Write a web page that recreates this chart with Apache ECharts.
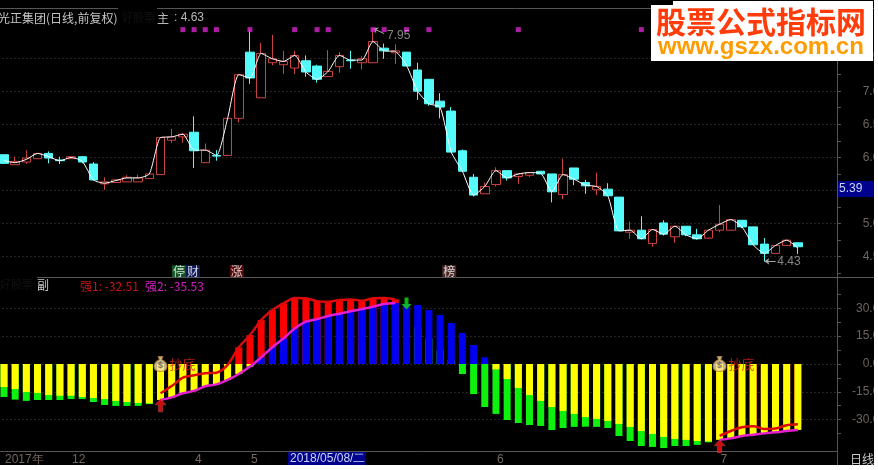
<!DOCTYPE html>
<html>
<head>
<meta charset="utf-8">
<title>光正集团</title>
<script src="https://cdn.jsdelivr.net/npm/echarts@6/dist/echarts.min.js"></script>
<style>
html,body{margin:0;padding:0;background:#fff;}
#myChart{position:absolute;left:0;top:0;width:874px;height:465px;background:#000;}
</style>
</head>
<body>
<div id="myChart"></div>
<script>
// open, close, low, high
const candles = [
	[6.04,5.91,5.91,6.04],[5.89,5.94,5.89,6.01],[5.93,5.99,5.90,6.11],[5.98,6.06,5.98,6.06],
	[6.06,5.99,5.91,6.09],[5.96,5.95,5.90,6.01],[5.98,6.01,5.98,6.01],[6.01,5.93,5.91,6.02],
	[5.90,5.66,5.65,5.93],[5.60,5.63,5.51,5.70],[5.62,5.66,5.62,5.67],[5.63,5.70,5.63,5.73],
	[5.63,5.69,5.63,5.74],[5.68,5.75,5.68,5.76],[5.74,6.30,5.74,6.30],[6.26,6.31,6.22,6.43],
	[6.31,6.35,6.22,6.37],[6.38,6.10,5.84,6.62],[5.92,6.11,5.92,6.21],[6.03,6.02,5.95,6.11],
	[6.03,6.59,6.03,6.59],[6.59,7.25,6.53,7.25],[7.59,7.20,7.11,7.93],[6.90,7.57,6.90,7.73],
	[7.43,7.49,7.39,7.85],[7.40,7.45,7.26,7.61],[7.35,7.54,7.26,7.61],[7.46,7.29,7.22,7.54],
	[7.38,7.18,7.13,7.40],[7.22,7.30,7.22,7.62],[7.37,7.54,7.28,7.59],[7.47,7.46,7.34,7.61],
	[7.43,7.49,7.33,7.53],[7.43,7.75,7.43,7.95],[7.65,7.61,7.49,7.72],[7.58,7.61,7.41,7.71],
	[7.59,7.38,7.38,7.59],[7.32,7.00,6.87,7.43],[7.18,6.81,6.78,7.18],[6.85,6.76,6.59,6.97],
	[6.70,6.08,6.08,6.76],[6.10,5.79,5.79,6.12],[5.70,5.43,5.41,5.75],[5.45,5.56,5.45,5.62],
	[5.59,5.80,5.56,5.85],[5.80,5.69,5.65,5.80],[5.71,5.75,5.60,5.76],[5.73,5.77,5.70,5.78],
	[5.79,5.75,5.75,5.79],[5.75,5.48,5.32,5.75],[5.44,5.74,5.37,5.98],[5.84,5.67,5.58,5.84],
	[5.62,5.57,5.45,5.66],[5.51,5.56,5.43,5.77],[5.52,5.42,5.42,5.61],[5.40,4.89,4.89,5.40],
	[4.87,4.90,4.77,5.03],[4.90,4.77,4.77,5.11],[4.70,4.91,4.65,4.91],[5.01,4.84,4.82,5.05],
	[4.80,4.96,4.71,4.96],[4.96,4.83,4.81,4.96],[4.83,4.77,4.76,4.92],[4.78,4.90,4.77,4.90],
	[4.90,4.99,4.87,5.28],[4.90,5.06,4.90,5.06],[5.05,4.95,4.93,5.05],[4.95,4.68,4.68,4.95],
	[4.69,4.55,4.43,4.78],[4.55,4.67,4.55,4.67],[4.67,4.75,4.67,4.75],[4.71,4.65,4.54,4.71]
];
const mainLine = [5.95,5.92,5.97,6.06,6.01,5.95,6.00,5.94,5.66,5.61,5.65,5.69,5.69,5.75,6.30,6.31,6.35,6.11,6.11,6.03,
	6.59,7.25,7.20,7.57,7.49,7.45,7.54,7.29,7.18,7.30,7.54,7.47,7.47,7.75,7.61,7.60,7.39,7.00,6.81,6.76,
	6.08,5.79,5.43,5.56,5.80,5.69,5.75,5.77,5.76,5.48,5.74,5.67,5.58,5.56,5.42,4.89,4.90,4.77,4.91,4.84,
	4.96,4.83,4.77,4.90,4.99,5.06,4.95,4.68,4.55,4.67,4.75,4.63];
const strong1 = [-17.8,-19.2,-19.9,-19.4,-19.4,-19.4,-18.9,-18.9,-20.5,-22.1,-22.6,-22.6,-22.6,-21.6,-15.8,-11.9,-7.4,-6.1,-5.0,-4.7,
	-0.5,9.0,15.6,23.7,29.1,32.7,35.6,35.4,33.9,33.6,34.5,34.8,34.1,35.4,35.6,34.8,27.3,20.1,13.8,7.5,
	2.2,-5.4,-16.2,-23.2,-26.9,-30.2,-31.8,-32.9,-33.4,-35.6,-34.5,-33.9,-33.8,-33.9,-34.5,-38.8,-41.5,-44.2,-44.7,-45.3,
	-44.2,-44.2,-43.6,-42.2,-38.8,-36.1,-34.1,-33.6,-35.0,-34.8,-33.0,-32.51];
const strong2 = [-12.4,-13.5,-15.1,-15.6,-16.7,-17.1,-17.1,-17.8,-18.3,-18.9,-19.9,-20.5,-21.0,-21.2,-19.4,-18.0,-15.8,-14.5,-12.0,-11.0,
	-8.6,-5.4,-1.4,3.6,9.0,13.8,19.2,22.8,24.2,25.9,27.1,28.4,29.6,30.9,32.3,32.9,32.3,31.8,29.1,26.4,
	22.1,16.7,10.2,3.6,-2.9,-8.1,-12.9,-16.7,-19.9,-23.2,-25.3,-26.9,-28.6,-29.6,-30.7,-32.3,-33.9,-36.1,-37.7,-39.3,
	-40.4,-40.9,-41.5,-41.7,-40.9,-40.1,-38.8,-38.1,-37.4,-36.8,-36.1,-35.53];
// which days the two strength lines are drawn on
const lineSpans = [[14,35],[64,71]];
const starDays = [16,17,18,19,22,26,28,29,33,34,36,38,46,57];
const starLevel = 7.93;
const extremes = [[33,7.95],[68,4.43]];
const tagDays = [[16,'停财'],[21,'涨'],[40,'榜']];
const tagLevel = 4.28;
const bagDays = [14,64];
const buyArrows = [[14,-22.3],[64,-44.3]];
const sellArrows = [[36,32.6]];
const dayCount = 75;
const monthLabels = {0:'2017年',6:'12',17:'4',22:'5',44:'6',64:'7'};
const minorDays = [9,11,14,18,19,21,38,49,54,59];
const mainLevels = [4.5,5,5.5,6,6.5,7,7.5];
const mainTicks = [4.25,4.5,4.75,5,5.25,5.5,5.75,6,6.25,6.5,6.75,7,7.25,7.5,7.75,8];
const subLevels = [-30,-15,0,15,30];
const subTicks = [-37.5,-30,-22.5,-15,-7.5,0,7.5,15,22.5,30,37.5];

const categories = [];
for (let i = 0; i < dayCount; i++) categories.push(monthLabels[i] || '');

const inSpan = i => lineSpans.some(s => i >= s[0] && i <= s[1]);
const spanOf = arr => arr.map((v, i) => inSpan(i) ? v : null);

const gray = '#565656';
const numFont = '"Liberation Sans"';
const cjkFont = '"Noto Sans CJK SC"';
const bagPath = 'path://M8,0 L16,0 L14,5 C20,8 23,13 23,17 C23,23 18,26 12,26 C6,26 1,23 1,17 C1,13 4,8 10,5 Z';
const upPath = 'path://M5,0 L10,6 L7,6 L7,13 L3,13 L3,6 L0,6 Z';
const downPath = 'path://M3,0 L7,0 L7,7 L10,7 L5,13 L0,7 L3,7 Z';
const tagStyle = color => ({color:'#fff', backgroundColor:color, fontSize:12, lineHeight:13, padding:[0,1,0,1], fontFamily:cjkFont});

const hline = (x1, x2, y, color) => ({type:'line', silent:true, z:50, shape:{x1:x1, y1:y, x2:x2, y2:y}, style:{stroke:color || gray, lineWidth:1}});
const gtext = (text, x, y, fill, size, z) => ({type:'text', silent:true, z:z || 60, style:{text:text, x:x, y:y, fill:fill, font:(size||13)+'px '+cjkFont, verticalAlign:'middle'}});
const ntext = (text, x, y, fill, z) => ({type:'text', silent:true, z:z || 60, style:{text:text, x:x, y:y, fill:fill, font:'12px '+numFont, verticalAlign:'middle'}});

let myChart = echarts.init(document.getElementById('myChart'), null, {renderer:'canvas'});
myChart.setOption({
	animation: false,
	backgroundColor: '#000',
	grid: [
		{left:-1.6, top:8, width:838.6, height:269, outerBoundsMode:'none'},
		{left:-1.6, top:277, width:838.6, height:174, outerBoundsMode:'none'}
	],
	xAxis: [
		{gridIndex:0, type:'category', data:categories, axisLine:{show:false}, axisTick:{show:false}, axisLabel:{show:false}, splitLine:{show:false}},
		{gridIndex:1, type:'category', data:categories, axisLine:{onZero:false, lineStyle:{color:gray}},
			axisTick:{alignWithLabel:true, length:14, lineStyle:{color:gray}, interval:(i, v) => v !== '' && i > 0},
			axisLabel:{interval:0, align:'left', margin:3, padding:[0,0,0,1], color:'#75665f', fontSize:12, fontFamily:numFont, hideOverlap:false},
			splitLine:{show:false}},
		{gridIndex:1, type:'category', data:categories, position:'bottom', axisLine:{show:false},
			axisTick:{alignWithLabel:true, inside:true, length:2, lineStyle:{color:gray}, interval:i => minorDays.indexOf(i) >= 0},
			axisLabel:{show:false}, splitLine:{show:false}}
	],
	yAxis: [
		{gridIndex:0, type:'value', position:'right', min:4.193, max:8.257, scale:true,
			axisLine:{show:true, lineStyle:{color:gray}}, splitLine:{show:false},
			axisTick:{show:true, length:4, customValues:mainTicks, lineStyle:{color:gray}},
			axisLabel:{customValues:mainLevels, formatter:v => v.toFixed(2), align:'right', margin:49, color:'#6e6560', fontSize:12, fontFamily:numFont}},
		{gridIndex:1, type:'value', position:'right', min:-46.9, max:46.9,
			axisLine:{show:true, onZero:false, lineStyle:{color:gray}}, splitLine:{show:false},
			axisTick:{show:true, length:4, customValues:subTicks, lineStyle:{color:gray}},
			axisLabel:{customValues:subLevels, formatter:v => v.toFixed(2), align:'right', margin:49, color:'#6e6560', fontSize:12, fontFamily:numFont}}
	],
	series: [
		{
			name:'K线', type:'candlestick', xAxisIndex:0, yAxisIndex:0, barWidth:9, z:3,
			data:candles,
			itemStyle:{color:'#000', color0:'#55fbfb', borderColor:'#cc4442', borderColor0:'#55fbfb', borderWidth:1},
			markLine:{silent:true, z:1, symbol:'none', label:{show:false}, animation:false,
				lineStyle:{color:'#4c4c4c', type:[1,3], width:1},
				data:mainLevels.map(v => ({yAxis:v}))}
		},
		{
			name:'主', type:'line', xAxisIndex:0, yAxisIndex:0, data:mainLine, z:4, smooth:0.2, showSymbol:false,
			lineStyle:{color:'#fff', width:1},
			markLine:{silent:true, z:4, label:{show:false}, symbol:['arrow','none'], symbolSize:5, animation:false,
				lineStyle:{color:'#a8a8a8', type:'solid', width:1},
				data:[
					[{coord:[extremes[0][0], extremes[0][1]]}, {coord:[extremes[0][0]+1, extremes[0][1]-0.08]}],
					[{coord:[extremes[1][0], extremes[1][1]]}, {coord:[extremes[1][0]+1, extremes[1][1]]}]
				]}
		},
		{
			type:'scatter', xAxisIndex:0, yAxisIndex:0, z:5, symbol:'rect', symbolSize:5, itemStyle:{color:'#d824cc'},
			data:starDays.map(d => [d, starLevel])
		},
		{
			type:'scatter', xAxisIndex:0, yAxisIndex:0, z:5, symbolSize:0,
			label:{show:true, position:'right', color:'#a8a8a8', fontSize:12, fontFamily:numFont, formatter:p => p.value[1].toFixed(2)},
			data:[
				{value:extremes[0], label:{offset:[9,7]}},
				{value:extremes[1], label:{offset:[8,0]}}
			]
		},
		{
			type:'scatter', xAxisIndex:0, yAxisIndex:0, z:5, symbolSize:0,
			data:tagDays.map(t => ({
				value:[t[0], tagLevel],
				label:{show:true, position:'inside', offset:t[1].length > 1 ? [3,0] : [-2,0],
					formatter:t[1] === '停财' ? '{a|停}{b|财}' : (t[1] === '涨' ? '{c|涨}' : '{d|榜}'),
					rich:{a:tagStyle('#176a2c'), b:tagStyle('#14206e'), c:tagStyle('#6a0c0c'), d:tagStyle('#5a3230')}}
			}))
		},
		{
			name:'back', type:'bar', xAxisIndex:1, yAxisIndex:1, barWidth:7, barGap:'-100%', z:2,
			data:strong1.map((v, i) => ({value:v, itemStyle:{color:v > strong2[i] ? '#fa0000' : '#0ef00e'}}))
		},
		{
			name:'front', type:'bar', xAxisIndex:1, yAxisIndex:1, barWidth:7, barGap:'-100%', z:2,
			data:strong2.map(v => ({value:v, itemStyle:{color:v > 0 ? '#0000f0' : '#ffff00'}})),
			markLine:{silent:true, z:1, symbol:'none', label:{show:false}, animation:false,
				lineStyle:{color:'#4c4c4c', type:[1,3], width:1},
				data:subLevels.map(v => ({yAxis:v}))}
		},
		{
			name:'强1', type:'line', xAxisIndex:1, yAxisIndex:1, z:4, smooth:0.3, showSymbol:false, connectNulls:false,
			data:spanOf(strong1), lineStyle:{color:'#dc0a0a', width:2.5}
		},
		{
			name:'强2', type:'line', xAxisIndex:1, yAxisIndex:1, z:4, smooth:0.3, showSymbol:false, connectNulls:false,
			data:spanOf(strong2), lineStyle:{color:'#e61ed2', width:2.5}
		},
		{
			type:'scatter', xAxisIndex:1, yAxisIndex:1, z:6, symbolSize:0,
			label:{show:true, position:'right', offset:[4,0], color:'#e02020', fontSize:13, fontFamily:cjkFont, formatter:'抄底'},
			data:bagDays.map(d => [d, 0])
		},
		{
			type:'scatter', xAxisIndex:1, yAxisIndex:1, z:7, symbol:bagPath, symbolSize:[13,15],
			itemStyle:{color:'#f6dfa6', borderColor:'#b07a30', borderWidth:1},
			label:{show:true, position:'inside', offset:[0,2], color:'#555', fontSize:9, fontFamily:numFont, fontWeight:'bold', formatter:'$'},
			data:bagDays.map(d => [d, 0])
		},
		{
			type:'scatter', xAxisIndex:1, yAxisIndex:1, z:7, symbol:upPath, symbolSize:[11,13],
			itemStyle:{color:'#ff1010', borderColor:'#a06868', borderWidth:0.5},
			data:buyArrows
		},
		{
			type:'scatter', xAxisIndex:1, yAxisIndex:1, z:7, symbol:downPath, symbolSize:[10,12],
			itemStyle:{color:'#12e012'},
			data:sellArrows
		}
	],
	graphic: [
		hline(0, 118, 8.5), hline(157, 874, 8.5),
		hline(37, 874, 277.5),
		{type:'line', silent:true, z:50, shape:{x1:837.5, y1:8, x2:837.5, y2:465}, style:{stroke:gray, lineWidth:1}},
		gtext('光正集团(日线,前复权)', -2, 18, '#c4c4c4', 12),
		gtext('好股票', 122, 18, '#111', 11),
		gtext('主', 157, 18, '#b8b8b8', 12),
		ntext(': 4.63', 174, 18, '#b8b8b8'),
		gtext('好股票', 0, 285, '#111', 11),
		gtext('副', 37, 285, '#c8c8c8', 12),
		gtext('强1: -32.51', 80, 286, '#c81414', 12),
		gtext('强2: -35.53', 145, 286, '#d41fc4', 12),
		{type:'rect', silent:true, z:70, shape:{x:838, y:181, width:36, height:16}, style:{fill:'#00008c'}},
		ntext('5.39', 839, 189, '#c8d8f0', 71),
		{type:'rect', silent:true, z:70, shape:{x:288, y:452, width:78, height:13}, style:{fill:'#00008c'}},
		ntext('2018/05/08/二', 290, 459, '#c8d8f0', 71),
		gtext('日线', 850, 459, '#c8c8c8', 12, 71),
		// watermark
		{type:'rect', silent:true, z:80, shape:{x:651, y:5, width:222, height:56}, style:{fill:'#fff'}},
		{type:'rect', silent:true, z:80, shape:{x:673, y:1, width:200, height:5}, style:{fill:'#fff'}},
		{type:'text', silent:true, z:81, style:{text:'股票公式指标网', x:656, y:22, fill:'#ff3c0a', font:'bold 30px '+cjkFont, verticalAlign:'middle'}},
		{type:'text', silent:true, z:81, style:{text:'www.gszx.com.cn', x:658, y:47, fill:'#ff9c00', font:'bold 24px "Liberation Sans"', verticalAlign:'middle'}}
	]
});
</script>
</body>
</html>
